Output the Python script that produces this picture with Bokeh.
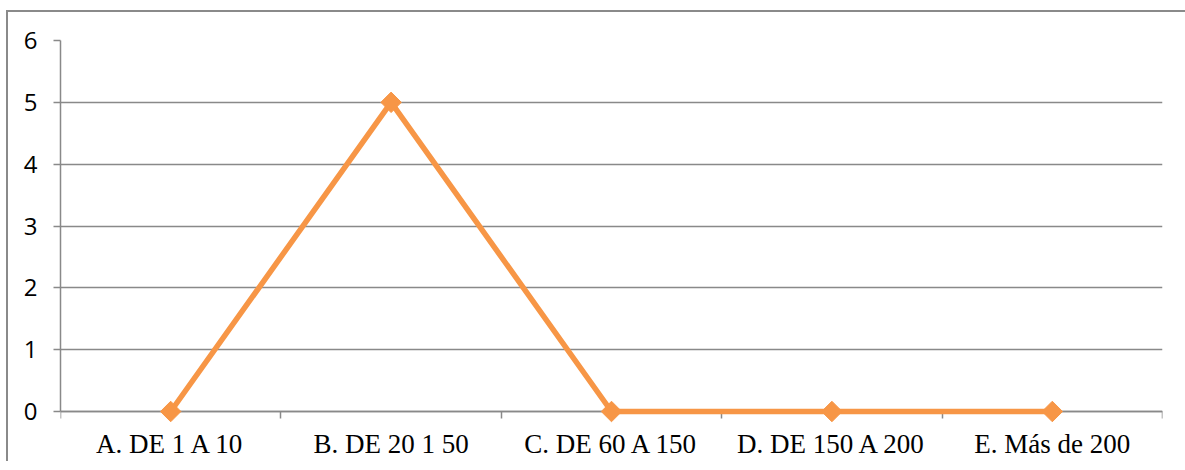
import math
from bokeh.plotting import figure
from bokeh.models import FixedTicker, Range1d, ColumnDataSource, LinearAxis
from bokeh.embed import file_html
from bokeh.resources import INLINE

categories = ["A. DE 1 A 10", "B. DE 20 1 50", "C. DE 60 A 150", "D. DE 150 A 200", "E. Más de 200"]
values = [0, 5, 0, 0, 0]
y_ticks = [0, 1, 2, 3, 4, 5, 6]

n = len(categories)
xs = [i + 0.5 for i in range(n)]
src = ColumnDataSource(dict(x=xs, y=values))

ORANGE = "#F79646"
GRID = "#898989"
BORDER = "#8a8a8a"

plot_h = 371          # pixels between y=0 and y=6
y_pad = 12            # extra pixels below y=0 so markers are not clipped
y_start = -y_pad * 6.0 / plot_h

p = figure(output_backend="svg", toolbar_location=None,
           x_range=Range1d(0, n), y_range=Range1d(y_start, 6),
           frame_width=1102, frame_height=plot_h + y_pad,
           min_border_left=60, min_border_top=40, min_border_right=23, min_border_bottom=35)
p.styles = {
    "background": f"linear-gradient({BORDER},{BORDER}) 6px 10px / 2px 100% no-repeat, "
                  f"linear-gradient({BORDER},{BORDER}) 6px 10px / 100% 2px no-repeat, #ffffff"
}
p.outline_line_color = None
p.background_fill_color = "white"
p.border_fill_color = None

# y axis
p.yaxis.ticker = FixedTicker(ticks=y_ticks)
p.yaxis.bounds = (0, 6)
p.yaxis.axis_line_color = GRID
p.yaxis.axis_line_width = 1.5
p.yaxis.major_tick_line_color = GRID
p.yaxis.major_tick_line_width = 1.5
p.yaxis.major_tick_in = 0
p.yaxis.major_tick_out = 7
p.yaxis.minor_tick_line_color = None
p.yaxis.major_label_text_font = "Open Sans"
p.yaxis.major_label_text_font_size = "24px"
p.yaxis.major_label_text_color = "black"
p.yaxis.major_label_standoff = 16

# x axis labels (category names at centers), no line / ticks
p.xaxis.ticker = FixedTicker(ticks=xs)
p.xaxis.major_label_overrides = {x: c for x, c in zip(xs, categories)}
p.xaxis.axis_line_color = None
p.xaxis.major_tick_line_color = None
p.xaxis.minor_tick_line_color = None
p.xaxis.major_label_text_font = "Liberation Serif"
p.xaxis.major_label_text_font_size = "27px"
p.xaxis.major_label_text_color = "black"
p.xaxis.major_label_standoff = -1

# x axis line at y = 0 with ticks between categories
base_axis = LinearAxis(fixed_location=0, ticker=FixedTicker(ticks=list(range(n + 1))),
                       axis_line_color=GRID, axis_line_width=1.5,
                       major_tick_line_color=GRID, major_tick_line_width=1.5,
                       major_tick_in=7, major_tick_out=0,
                       minor_tick_line_color=None,
                       major_label_text_color=None, major_label_text_font_size="1px",
                       major_label_standoff=0)
p.add_layout(base_axis, "above")

p.xgrid.grid_line_color = None
p.ygrid.ticker = FixedTicker(ticks=y_ticks)
p.ygrid.grid_line_color = GRID
p.ygrid.grid_line_width = 1.5

p.line("x", "y", source=src, line_color=ORANGE, line_width=5.5, level="overlay")
p.scatter("x", "y", source=src, marker="square", size=14.5, angle=math.pi / 4,
          fill_color=ORANGE, line_color=ORANGE, level="overlay")

open("out.html", "w").write(file_html(p, INLINE))
